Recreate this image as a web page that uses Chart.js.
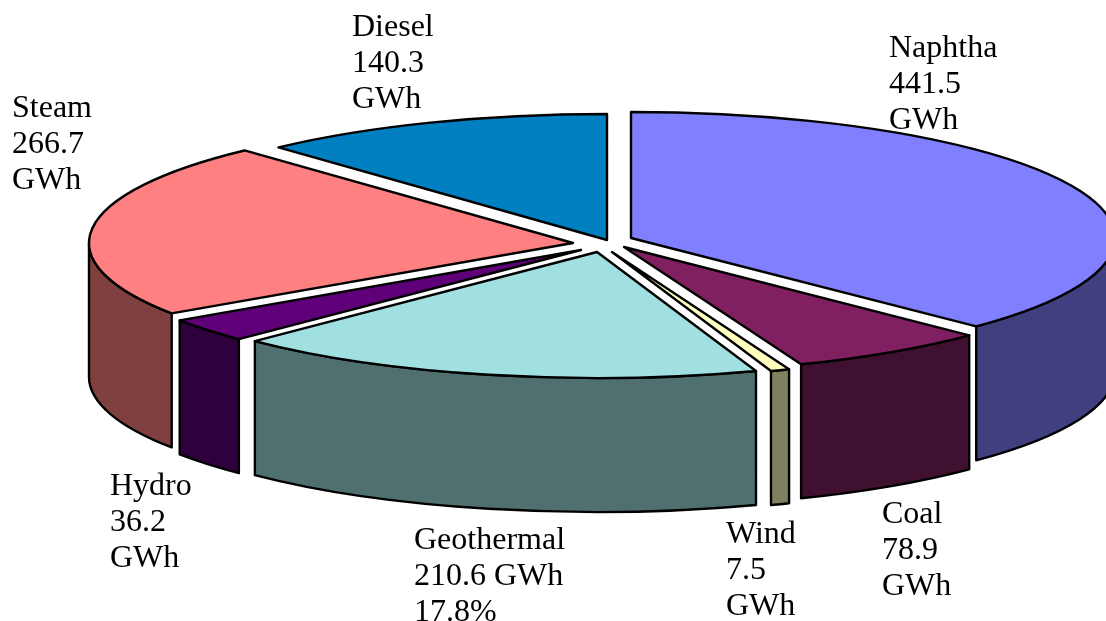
<!DOCTYPE html>
<html>
<head>
<meta charset="utf-8">
<title>Generation by fuel</title>
<script src="https://cdn.jsdelivr.net/npm/chart.js@4/dist/chart.umd.min.js"></script>
<style>
  html, body { margin: 0; padding: 0; background: #fff; overflow: hidden; }
  canvas { display: block; }
</style>
</head>
<body>
<canvas id="pie" width="1106" height="621"></canvas>
<script>
const categories = ['Naphtha', 'Coal', 'Wind', 'Geothermal', 'Hydro', 'Steam', 'Diesel'];
const gwh = [441.5, 78.9, 7.5, 210.6, 36.2, 266.7, 140.3];
const topColors = ['#8080ff', '#802060', '#ffffc0', '#a0e0e0', '#600078', '#ff8080', '#0080c0'];
const labelLines = [
  ['Naphtha', '441.5', 'GWh'],
  ['Coal', '78.9', 'GWh'],
  ['Wind', '7.5', 'GWh'],
  ['Geothermal', '210.6 GWh', '17.8%'],
  ['Hydro', '36.2', 'GWh'],
  ['Steam', '266.7', 'GWh'],
  ['Diesel', '140.3', 'GWh']
];

// fake 3d view settings, the pie itself is a flat chart.js pie
const view = { cx: 603, cy: 243, rx: 484, ry: 126, depth: 134 };
const explodeX = [28, 21, 9, -6, -22, -30, 4];
const explodeY = [-5, 4, 9, 9, 7, 0, -3];
const labelX = [889, 882, 726, 414, 110, 12, 352];
const labelY = [57, 523, 543, 549, 495, 117, 36];
const labelFont = '32px "Liberation Serif"';
const lineGap = 36;

function darken(hex) {
  const n = parseInt(hex.slice(1), 16);
  const half = v => Math.round(v / 2);
  return `rgb(${half(n >> 16)}, ${half((n >> 8) & 255)}, ${half(n & 255)})`;
}

const pie3d = {
  id: 'pie3d',
  beforeDatasetDraw(chart, args) {
    const ctx = chart.ctx;
    const arcs = args.meta.data;
    ctx.lineJoin = 'round';
    ctx.lineWidth = 2.4;
    ctx.strokeStyle = '#000';

    // outer walls, only the half that faces the viewer
    arcs.forEach((arc, i) => {
      const x = view.cx + explodeX[i];
      const y = view.cy + explodeY[i];
      const from = Math.max(arc.startAngle, 0);
      const to = Math.min(arc.endAngle, Math.PI);
      if (from >= to) return;
      ctx.beginPath();
      ctx.ellipse(x, y, view.rx, view.ry, 0, from, to);
      ctx.ellipse(x, y + view.depth, view.rx, view.ry, 0, to, from, true);
      ctx.closePath();
      ctx.fillStyle = darken(topColors[i]);
      ctx.fill();
      ctx.stroke();
    });

    // top faces: fill with the library's arc, squashed, then outline unsquashed
    arcs.forEach((arc, i) => {
      const x = view.cx + explodeX[i];
      const y = view.cy + explodeY[i];
      ctx.save();
      ctx.translate(x, y);
      ctx.scale(view.rx / arc.outerRadius, view.ry / arc.outerRadius);
      ctx.translate(-arc.x, -arc.y);
      arc.draw(ctx);
      ctx.restore();

      ctx.beginPath();
      ctx.moveTo(x, y);
      ctx.ellipse(x, y, view.rx, view.ry, 0, arc.startAngle, arc.endAngle);
      ctx.closePath();
      ctx.stroke();
    });
    return false;
  },
  afterDraw(chart) {
    const ctx = chart.ctx;
    ctx.save();
    ctx.font = labelFont;
    ctx.fillStyle = '#000';
    ctx.textBaseline = 'alphabetic';
    labelLines.forEach((lines, i) => {
      lines.forEach((line, j) => ctx.fillText(line, labelX[i], labelY[i] + j * lineGap));
    });
    ctx.restore();
  }
};

new Chart(document.getElementById('pie'), {
  type: 'pie',
  data: {
    labels: categories,
    datasets: [{ data: gwh, backgroundColor: topColors, borderWidth: 0 }]
  },
  options: {
    responsive: false,
    animation: false,
    plugins: { legend: { display: false }, tooltip: { enabled: false } }
  },
  plugins: [pie3d]
});
</script>
</body>
</html>
